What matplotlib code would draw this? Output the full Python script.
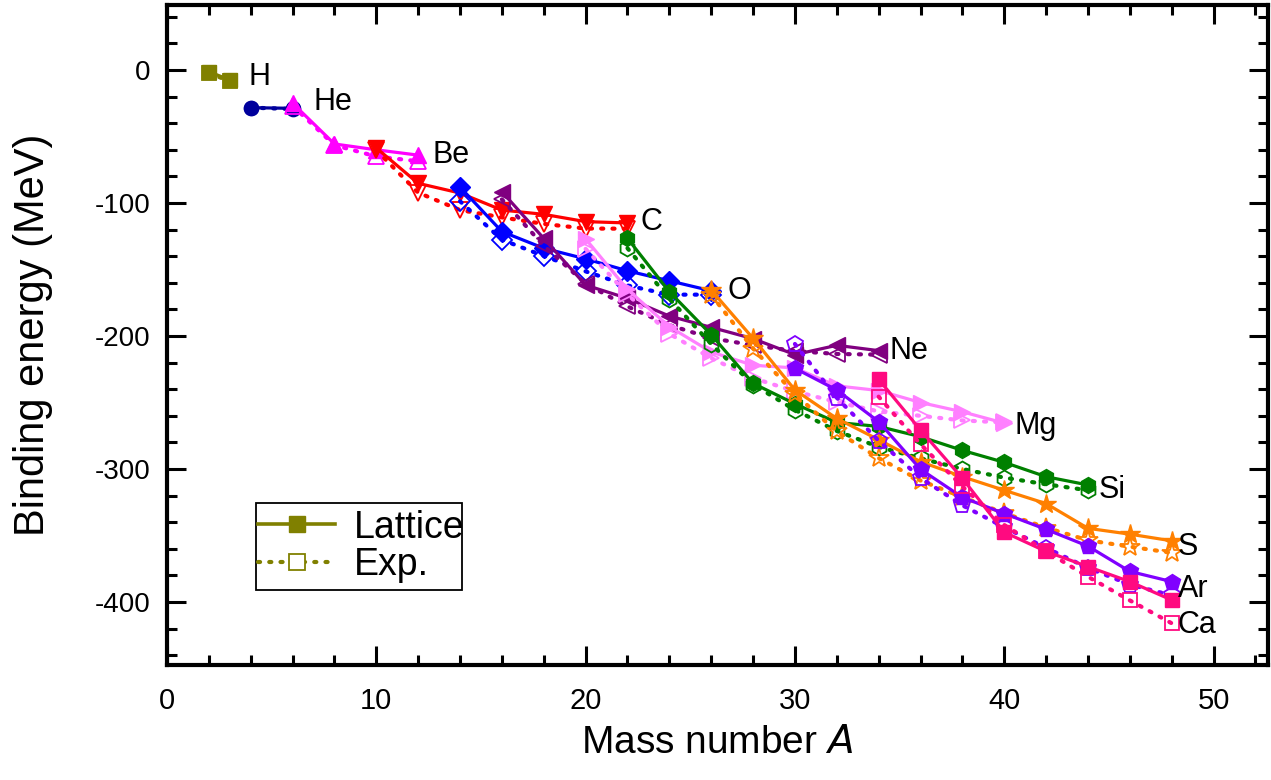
import matplotlib
matplotlib.use("Agg")
import matplotlib.pyplot as plt
from matplotlib.ticker import MultipleLocator
from matplotlib.lines import Line2D
from matplotlib.patches import Rectangle

plt.rcParams['font.family'] = ['Liberation Sans', 'DejaVu Sans']
plt.rcParams['axes.unicode_minus'] = False

# ---------------- data ----------------
H_A = [2, 3]
H_lat = [-1.2, -7.5]
H_exp = [-2.2, -8.5]

He_A = [4, 6]
He_lat = [-28.3, -28.8]
He_exp = [-28.3, -29.3]

Be_A = [6, 8, 10, 12]
Be_lat = [-25.0, -55.6, -60.0, -64.0]
Be_exp = [-26.9, -56.5, -65.0, -68.6]

C_A = [10, 12, 14, 16, 18, 20, 22]
C_lat = [-58.6, -85.2, -92.5, -105.3, -108.5, -114.0, -115.0]
C_exp = [-60.3, -92.2, -105.3, -110.8, -115.7, -119.2, -119.3]

O_A = [14, 16, 18, 20, 22, 24, 26]
O_lat = [-88.0, -121.5, -134.0, -142.0, -151.0, -158.5, -166.0]
O_exp = [-98.7, -127.6, -139.8, -151.4, -162.0, -168.9, -168.9]

Ne_A = [16, 18, 20, 22, 24, 26, 28, 30, 32, 34]
Ne_lat = [-91.5, -126.6, -161.7, -171.7, -185.0, -193.5, -202.0, -214.0, -207.0, -211.0]
Ne_exp = [-97.3, -132.1, -160.6, -177.8, -191.8, -201.6, -206.9, -211.3, -213.5, -214.0]

Mg_A = [20, 22, 24, 26, 28, 30, 32, 34, 36, 38, 40]
Mg_lat = [-127.0, -165.0, -193.0, -212.0, -222.0, -224.0, -237.5, -241.0, -250.0, -257.0, -265.5]
Mg_exp = [-134.5, -168.6, -198.3, -216.7, -231.6, -241.6, -249.7, -256.7, -260.0, -263.5, -265.0]

Si_A = [22, 24, 26, 28, 30, 32, 34, 36, 38, 40, 42, 44]
Si_lat = [-126.6, -166.7, -199.0, -235.6, -251.0, -265.0, -268.0, -275.7, -286.0, -295.0, -305.8, -312.0]
Si_exp = [-134.0, -172.0, -206.0, -236.5, -255.6, -271.4, -283.4, -292.0, -300.0, -306.5, -311.5, -316.0]

S_A = [26, 28, 30, 32, 34, 36, 38, 40, 42, 44, 46, 48]
S_lat = [-165.4, -201.8, -240.6, -262.0, -278.0, -294.5, -305.8, -316.0, -326.0, -344.6, -349.0, -354.0]
S_exp = [-169.0, -209.4, -243.7, -271.8, -291.8, -308.7, -321.1, -333.2, -344.1, -353.6, -358.4, -363.0]

Ar_A = [30, 32, 34, 36, 38, 40, 42, 44, 46, 48]
Ar_lat = [-224.3, -240.6, -264.4, -300.2, -321.3, -333.5, -345.4, -358.0, -377.0, -384.7]
Ar_exp = [-206.0, -246.4, -278.7, -306.7, -327.3, -343.8, -359.3, -374.4, -386.9, -395.0]

Ca_A = [34, 36, 38, 40, 42, 44, 46, 48]
Ca_lat = [-232.6, -270.7, -307.0, -347.5, -362.0, -373.4, -384.7, -398.5]
Ca_exp = [-245.6, -281.4, -313.1, -342.1, -361.9, -381.0, -398.8, -416.0]

elements = ['H', 'He', 'Be', 'C', 'O', 'Ne', 'Mg', 'Si', 'S', 'Ar', 'Ca']
label_pos = {'H': (3.9, -5), 'He': (7.0, -24), 'Be': (12.7, -64), 'C': (22.6, -114),
             'O': (26.8, -166), 'Ne': (34.5, -211), 'Mg': (40.5, -268), 'Si': (44.5, -316),
             'S': (48.3, -359), 'Ar': (48.3, -390), 'Ca': (48.3, -417)}

series = {
    'H': (H_A, H_lat, H_exp, '#808000', 's', 9.5),
    'He': (He_A, He_lat, He_exp, '#00009c', 'o', 10),
    'Be': (Be_A, Be_lat, Be_exp, '#ff00ff', '^', 12),
    'C': (C_A, C_lat, C_exp, '#ff0000', 'v', 12),
    'O': (O_A, O_lat, O_exp, '#0000ff', 'D', 10.5),
    'Ne': (Ne_A, Ne_lat, Ne_exp, '#800080', '<', 12),
    'Mg': (Mg_A, Mg_lat, Mg_exp, '#ff80ff', '>', 12),
    'Si': (Si_A, Si_lat, Si_exp, '#008000', 'h', 11.5),
    'S': (S_A, S_lat, S_exp, '#ff8000', '*', 15),
    'Ar': (Ar_A, Ar_lat, Ar_exp, '#8000ff', 'p', 12),
    'Ca': (Ca_A, Ca_lat, Ca_exp, '#ff0a80', 's', 10.5),
}

DOT = (0, (0.5, 2.2))

fig = plt.figure(figsize=(12.71, 7.80), dpi=100)
ax = fig.add_axes([0.1314, 0.1474, 0.8662, 0.8462])

for el in elements:
    A, lat, ex, col, mk, ms = series[el]
    ax.plot(A, ex, linestyle=DOT, color=col, lw=3.0,
            dash_capstyle='round', marker=mk, ms=ms, mfc='none', mec=col, mew=1.3)
    ax.plot(A, lat, linestyle='-', color=col, lw=2.3,
            marker=mk, ms=ms, mfc=col, mec=col, mew=1.0)
    x, y = label_pos[el]
    ax.text(x, y, el, ha='left', va='center', fontsize=22)

ax.set_xlim(0, 52.6)
ax.set_ylim(-447.4, 48.9)
ax.xaxis.set_major_locator(MultipleLocator(10))
ax.xaxis.set_minor_locator(MultipleLocator(2))
ax.yaxis.set_major_locator(MultipleLocator(100))
ax.yaxis.set_minor_locator(MultipleLocator(20))
ax.tick_params(which='both', direction='in', top=True, right=True, width=2.2)
ax.tick_params(which='major', length=14)
ax.tick_params(which='minor', length=7)
ax.tick_params(axis='y', labelsize=20, pad=12)
ax.tick_params(axis='x', labelsize=21, pad=16)
for sp in ax.spines.values():
    sp.set_linewidth(3)

ax.set_xlabel('Mass number $\\mathit{A}$', fontsize=28, labelpad=7)
ax.set_ylabel('Binding energy (MeV)', fontsize=30, labelpad=30)

# legend box
bx0 = (256 - 167) / 1101
bx1 = (462 - 167) / 1101
by0 = (665 - 590) / 660
by1 = (665 - 503) / 660
ax.add_patch(Rectangle((bx0, by0), bx1 - bx0, by1 - by0, transform=ax.transAxes,
                       fill=True, facecolor='white', edgecolor='black', lw=1.3, zorder=5))

hl = Line2D([], [], color='#808000', lw=2.6, marker='s', ms=11, mfc='#808000')
he = Line2D([], [], color='#808000', lw=3.0, linestyle=DOT, dash_capstyle='round',
            marker='s', ms=11, mfc='white', mec='#808000', mew=1.3)
leg = ax.legend([hl, he], ['Lattice', 'Exp.'], loc='center left',
                bbox_to_anchor=(bx0 + 0.002, (by0 + by1) / 2), fontsize=27, frameon=False,
                handlelength=2.05, handletextpad=0.5, borderpad=0.0, borderaxespad=0,
                labelspacing=0.05)
leg.set_zorder(6)

fig.savefig('out.png', dpi=100)
